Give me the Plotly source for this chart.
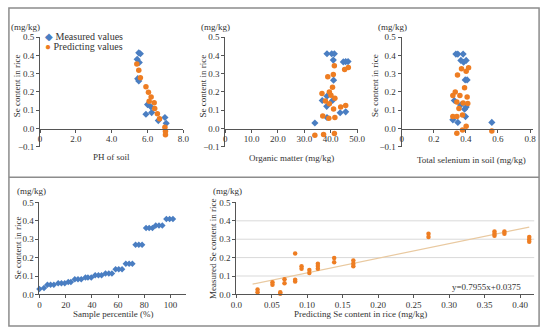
import plotly.graph_objects as go

W, H = 550, 335
def px(x): return x / W
def py(y): return 1 - y / H

# ---- Data ----
ph_meas_x = [5.51, 5.6, 5.42, 5.54, 5.45, 5.51, 5.91, 6.0, 6.18, 6.23, 6.6, 6.97, 7.04]
ph_meas_y = [0.415, 0.41, 0.379, 0.362, 0.273, 0.26, 0.078, 0.131, 0.119, 0.087, 0.043, 0.06, 0.028]
ph_pred_x = [5.4, 5.51, 5.6, 5.91, 6.05, 6.2, 6.09, 6.37, 6.4, 6.55, 6.67, 6.97, 7.0, 7.0]
ph_pred_y = [0.354, 0.319, 0.278, 0.229, 0.198, 0.173, 0.149, 0.141, 0.11, 0.08, 0.053, 0.007, -0.016, -0.035]

om_meas_x = [38.6, 40.4, 41.4, 41.0, 44.8, 45.7, 46.6, 41.1, 38.6, 36.8, 40.7, 38.5, 43.6, 45.7, 38.6, 34.0]
om_meas_y = [0.41, 0.41, 0.41, 0.375, 0.365, 0.367, 0.367, 0.265, 0.177, 0.153, 0.153, 0.121, 0.086, 0.091, 0.06, 0.03]
om_pred_x = [41.4, 46.7, 45.3, 38.9, 41.0, 40.7, 39.5, 36.7, 40.1, 41.6, 38.0, 39.5, 43.8, 45.7, 41.1, 37.0, 39.3, 41.6, 34.0, 37.3, 41.4]
om_pred_y = [0.344, 0.335, 0.323, 0.284, 0.296, 0.226, 0.2, 0.191, 0.182, 0.165, 0.151, 0.135, 0.117, 0.126, 0.107, 0.068, 0.056, 0.06, -0.037, -0.033, -0.028]

se_meas_x = [0.338, 0.35, 0.383, 0.369, 0.386, 0.402, 0.396, 0.408, 0.328, 0.367, 0.392, 0.402, 0.319, 0.35, 0.398, 0.562]
se_meas_y = [0.408, 0.408, 0.408, 0.373, 0.363, 0.373, 0.266, 0.266, 0.153, 0.128, 0.105, 0.117, 0.047, 0.033, 0.065, 0.033]
se_pred_x = [0.417, 0.373, 0.402, 0.348, 0.392, 0.334, 0.319, 0.363, 0.408, 0.344, 0.383, 0.412, 0.357, 0.319, 0.344, 0.379, 0.402, 0.379, 0.344, 0.562]
se_pred_y = [0.333, 0.328, 0.314, 0.293, 0.223, 0.2, 0.18, 0.18, 0.173, 0.145, 0.14, 0.137, 0.11, 0.065, 0.066, 0.074, 0.012, -0.009, -0.026, -0.014]

pct_x = [0, 3.5, 6.1, 8.5, 11.0, 14.3, 16.8, 19.3, 22.0, 24.0, 27.0, 29.4, 31.9, 35.1, 37.0, 39.5,
         42.5, 45.0, 47.4, 50.4, 52.9, 55.3, 58.1, 60.5, 63.0, 65.9, 68.4, 70.9, 73.3, 75.8, 78.3,
         81.3, 83.7, 86.2, 88.7, 91.2, 93.7, 96.8, 99.3, 101.8]
pct_y = [0.03, 0.035, 0.053, 0.053, 0.053, 0.06, 0.06, 0.06, 0.067, 0.067, 0.083, 0.083, 0.083,
         0.092, 0.092, 0.092, 0.104, 0.104, 0.104, 0.114, 0.114, 0.114, 0.137, 0.137, 0.137,
         0.166, 0.166, 0.166, 0.27, 0.27, 0.27, 0.361, 0.361, 0.361, 0.374, 0.374, 0.374, 0.41, 0.41, 0.41]

fit_pred = [0.030, 0.030, 0.051, 0.051, 0.062, 0.062, 0.068, 0.068, 0.083, 0.083, 0.083, 0.092, 0.092,
            0.103, 0.103, 0.115, 0.115, 0.115, 0.138, 0.138, 0.165, 0.165, 0.165, 0.271, 0.271,
            0.364, 0.364, 0.364, 0.378, 0.378, 0.413, 0.413, 0.413]
fit_meas = [0.026, 0.012, 0.066, 0.053, 0.012, 0.003, 0.082, 0.061, 0.223, 0.079, 0.07, 0.153, 0.14,
            0.132, 0.117, 0.166, 0.154, 0.14, 0.198, 0.175, 0.184, 0.166, 0.153, 0.33, 0.312,
            0.342, 0.33, 0.319, 0.342, 0.33, 0.312, 0.298, 0.286]
slope, intercept = 0.7955, 0.0375
line_x = [0.023, 0.413]

BLUE = "#4A7EC2"
ORANGE = "#EE7D22"
FONT = "Liberation Serif"
AX = "#555555"

fig = go.Figure()

def sc(x, y, xa, ya, color, symbol, size):
    fig.add_trace(go.Scatter(x=x, y=y, xaxis=xa, yaxis=ya, mode="markers", cliponaxis=False,
                             marker=dict(color=color, symbol=symbol, size=size, line=dict(width=0)),
                             showlegend=False, hoverinfo="skip"))

sc(ph_meas_x, ph_meas_y, "x", "y", BLUE, "diamond", 5.5)
sc(ph_pred_x, ph_pred_y, "x", "y", ORANGE, "circle", 5.5)
sc(om_meas_x, om_meas_y, "x2", "y2", BLUE, "diamond", 5.5)
sc(om_pred_x, om_pred_y, "x2", "y2", ORANGE, "circle", 5.5)
sc(se_meas_x, se_meas_y, "x3", "y3", BLUE, "diamond", 5.5)
sc(se_pred_x, se_pred_y, "x3", "y3", ORANGE, "circle", 5.5)
sc(pct_x, pct_y, "x4", "y4", BLUE, "diamond", 5)

fig.add_trace(go.Scatter(x=line_x, y=[slope * v + intercept for v in line_x], xaxis="x5", yaxis="y5",
                         mode="lines", line=dict(color="#E9C9A0", width=1.2), showlegend=False,
                         hoverinfo="skip"))
sc(fit_pred, fit_meas, "x5", "y5", ORANGE, "circle", 4.5)

tickfont = dict(family=FONT, size=9, color="#333333")
common = dict(showline=True, linecolor=AX, linewidth=1, ticks="outside", ticklen=3, tickcolor=AX,
              tickfont=tickfont, showgrid=False, zeroline=False, fixedrange=True)
xcommon = dict(common, ticklabelstandoff=-1)

ytop = [py(146), py(33.3)]
yt_vals = [-0.1, 0, 0.1, 0.2, 0.3, 0.4, 0.5]
yt_text = ["\u22120.1", "0.0", "0.1", "0.2", "0.3", "0.4", "0.5"]
x0pos = py(127.5)

lay = dict(
    xaxis=dict(domain=[px(35), px(182)], range=[0, 8.0], anchor="free", position=x0pos,
               tickvals=[0, 2, 4, 6, 8], ticktext=["0", "2.0", "4.0", "6.0", "8.0"], **xcommon),
    yaxis=dict(domain=ytop, range=[-0.1, 0.5], anchor="x", tickvals=yt_vals, ticktext=yt_text, **common),
    xaxis2=dict(domain=[px(225), px(361)], range=[0, 50.3], anchor="free", position=x0pos,
                tickvals=[0, 10, 20, 30, 40, 50], ticktext=["0", "10.0", "20.0", "30.0", "40.0", "50.0"], **xcommon),
    yaxis2=dict(domain=ytop, range=[-0.1, 0.5], anchor="x2", tickvals=yt_vals, ticktext=yt_text, **common),
    xaxis3=dict(domain=[px(406), px(541)], range=[0, 0.82], anchor="free", position=x0pos,
                tickvals=[0, 0.2, 0.4, 0.6, 0.8], ticktext=["0", "0.2", "0.4", "0.6", "0.8"], **xcommon),
    yaxis3=dict(domain=ytop, range=[-0.1, 0.5], anchor="x3", tickvals=yt_vals, ticktext=yt_text, **common),
    xaxis4=dict(domain=[px(34.3), px(185)], range=[0, 112], anchor="y4",
                tickvals=[0, 20, 40, 60, 80, 100], **xcommon),
    yaxis4=dict(domain=[py(298.3), py(203.5)], range=[0, 0.5], anchor="x4",
                tickvals=[0, 0.1, 0.2, 0.3, 0.4, 0.5], ticktext=["0.0", "0.1", "0.2", "0.3", "0.4", "0.5"], **common),
    xaxis5=dict(domain=[px(236.3), px(542)], range=[0, 0.42], anchor="y5",
                tickvals=[0, 0.05, 0.1, 0.15, 0.2, 0.25, 0.3, 0.35, 0.4],
                ticktext=["0.0", "0.05", "0.10", "0.15", "0.20", "0.25", "0.30", "0.35", "0.40"], **xcommon),
    yaxis5=dict(domain=[py(298.3), py(203.5)], range=[0, 0.5], anchor="x5",
                tickvals=[0, 0.1, 0.2, 0.3, 0.4, 0.5], ticktext=["0.0", "0.1", "0.2", "0.3", "0.4", "0.5"], **common),
)

grid_levels = [0.1, 0.2, 0.3, 0.4]
shapes = []
for g in grid_levels:
    shapes.append(dict(type="line", xref="x5 domain", yref="y5", x0=0, x1=1, y0=g, y1=g,
                       line=dict(color="#D9D9D9", width=1), layer="below"))
# frame
FR = "#8C8C8C"
shapes.append(dict(type="rect", xref="paper", yref="paper", x0=px(3), x1=px(547), y0=py(331), y1=py(3),
                   line=dict(color=FR, width=1.5)))
shapes.append(dict(type="line", xref="paper", yref="paper", x0=px(3), x1=px(547), y0=py(177.5), y1=py(177.5),
                   line=dict(color=FR, width=1.5)))

ann = []
def a(text, x, y, angle=0, xanchor="center", size=9):
    ann.append(dict(text=text, x=px(x), y=py(y), xref="paper", yref="paper", showarrow=False,
                    textangle=angle, xanchor=xanchor, yanchor="middle",
                    font=dict(family=FONT, size=size, color="#333333")))

for (x, y) in [(20, 23), (215, 23), (397, 23), (26, 192), (227, 192)]:
    a("(mg/kg)", x, y)
for (x, y, t) in [(11, 83, "Se content in rice"), (202, 83, "Se content in rice"), (378, 83, "Se content in rice"),
                  (12, 250, "Se content in rice"), (213, 252, "Measured Se content in rice")]:
    a(t, x, y, angle=-90)
a("PH of soil", 108, 157)
a("Organic matter (mg/kg)", 293, 158)
a("Total selenium in soil (mg/kg)", 478, 160)
a("Sample percentile (%)", 110, 318)
a("Predicting Se content in rice (mg/kg)", 364, 318)
a("y=0.7955x+0.0375", 531, 291, xanchor="right")
a(f'<span style="color:{BLUE}">\u25C6</span> Measured values', 38, 32, xanchor="left", size=10)
a(f'<span style="color:{ORANGE}">\u25CF</span> Predicting values', 38, 43, xanchor="left", size=10)

fig.update_layout(width=W, height=H, margin=dict(l=0, r=0, t=0, b=0), paper_bgcolor="white",
                  plot_bgcolor="rgba(0,0,0,0)", shapes=shapes, annotations=ann, showlegend=False, **lay)
fig.write_html("out.html", config={"displayModeBar": False, "staticPlot": True},
               post_script="document.body.style.margin='0';document.body.style.overflow='hidden';")
